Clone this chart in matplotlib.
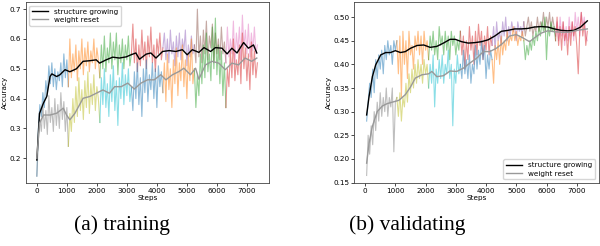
import matplotlib
matplotlib.use("Agg")
import matplotlib.pyplot as plt
import numpy as np

# ---- training panel (a) ----
train_steps = list(range(0, 7400, 50))
sg_train = [
    0.14, 0.30, 0.38, 0.34, 0.42, 0.37, 0.46, 0.41, 0.51, 0.45, 0.52, 0.44, 0.50, 0.43, 0.49, 0.46, 0.52, 0.44, 0.55, 0.47, 0.53,
    0.44, 0.60, 0.47, 0.55, 0.49, 0.58, 0.46, 0.56, 0.50, 0.60, 0.48, 0.57, 0.51, 0.59, 0.49, 0.56, 0.52, 0.60, 0.50, 0.57, 0.53,
    0.47, 0.58, 0.50, 0.61, 0.49, 0.57, 0.52, 0.62, 0.50, 0.59, 0.53, 0.62, 0.48, 0.58, 0.52, 0.60, 0.50, 0.58, 0.53, 0.61, 0.51,
    0.55, 0.65, 0.52, 0.60, 0.49, 0.58, 0.51, 0.63, 0.53, 0.59, 0.50, 0.61, 0.54, 0.64, 0.52, 0.58, 0.49, 0.60, 0.55, 0.62, 0.53,
    0.57, 0.62, 0.53, 0.60, 0.52, 0.63, 0.55, 0.59, 0.51, 0.61, 0.54, 0.62, 0.53, 0.60, 0.56, 0.63, 0.51, 0.58, 0.54, 0.61, 0.55,
    0.58, 0.52, 0.70, 0.54, 0.61, 0.52, 0.63, 0.55, 0.66, 0.53, 0.61, 0.57, 0.65, 0.52, 0.62, 0.55, 0.60, 0.53, 0.64, 0.55, 0.59,
    0.52, 0.64, 0.54, 0.60, 0.55, 0.66, 0.52, 0.62, 0.56, 0.64, 0.53, 0.68, 0.57, 0.63, 0.55, 0.65, 0.54, 0.62, 0.56, 0.64, 0.55, 0.58,
]
wr_train = [
    0.14, 0.26, 0.33, 0.29, 0.38, 0.30, 0.36, 0.28, 0.41, 0.32, 0.37, 0.29, 0.40, 0.31, 0.38, 0.30, 0.42, 0.33, 0.39, 0.29, 0.37,
    0.24, 0.35, 0.29, 0.40, 0.32, 0.44, 0.34, 0.47, 0.36, 0.43, 0.33, 0.46, 0.37, 0.49, 0.35, 0.45, 0.38, 0.48, 0.36, 0.44, 0.40,
    0.32, 0.47, 0.38, 0.50, 0.37, 0.45, 0.34, 0.48, 0.39, 0.51, 0.36, 0.46, 0.31, 0.47, 0.40, 0.52, 0.38, 0.48, 0.41, 0.50, 0.39,
    0.44, 0.36, 0.49, 0.40, 0.52, 0.38, 0.47, 0.34, 0.50, 0.42, 0.53, 0.39, 0.48, 0.43, 0.52, 0.40, 0.50, 0.37, 0.51, 0.44, 0.49,
    0.42, 0.52, 0.39, 0.55, 0.43, 0.50, 0.37, 0.53, 0.45, 0.57, 0.41, 0.52, 0.46, 0.58, 0.44, 0.53, 0.40, 0.55, 0.46, 0.60, 0.45,
    0.50, 0.37, 0.48, 0.41, 0.55, 0.45, 0.58, 0.47, 0.62, 0.49, 0.55, 0.46, 0.64, 0.50, 0.67, 0.48, 0.58, 0.45, 0.56, 0.41, 0.52,
    0.37, 0.50, 0.44, 0.56, 0.47, 0.60, 0.46, 0.53, 0.48, 0.58, 0.45, 0.62, 0.50, 0.57, 0.46, 0.55, 0.43, 0.59, 0.48, 0.56, 0.47, 0.52,
]
sg_train_smooth_x = [0, 88, 220, 330, 440, 500, 660, 770, 940, 1100, 1320, 1540, 1760, 1980, 2090, 2310, 2530, 2750, 2980,
                     3140, 3300, 3420, 3640, 3800, 3970, 4190, 4410, 4630, 4850, 5010, 5180, 5400, 5570, 5790, 5950,
                     6170, 6340, 6500, 6670, 6890, 7050, 7220, 7330]
sg_train_smooth = [0.194, 0.35, 0.385, 0.407, 0.474, 0.483, 0.474, 0.48, 0.497, 0.49, 0.50, 0.525, 0.527, 0.53, 0.519,
                   0.53, 0.539, 0.536, 0.54, 0.547, 0.553, 0.532, 0.549, 0.553, 0.536, 0.558, 0.561, 0.558, 0.564,
                   0.547, 0.564, 0.555, 0.571, 0.558, 0.571, 0.569, 0.55, 0.569, 0.553, 0.588, 0.569, 0.58, 0.553]
wr_train_smooth_x = [0, 88, 220, 440, 660, 880, 990, 1100, 1270, 1540, 1760, 1980, 2200, 2420, 2590, 2810, 3030, 3250,
                     3470, 3690, 3910, 4130, 4300, 4520, 4740, 4900, 5120, 5290, 5400, 5620, 5840, 6060, 6280, 6500,
                     6720, 6940, 7160, 7330]
wr_train_smooth = [0.20, 0.317, 0.345, 0.345, 0.351, 0.368, 0.345, 0.329, 0.351, 0.401, 0.407, 0.418, 0.429, 0.418,
                   0.44, 0.44, 0.452, 0.432, 0.452, 0.463, 0.463, 0.48, 0.463, 0.48, 0.491, 0.502, 0.48, 0.502, 0.465,
                   0.513, 0.525, 0.519, 0.497, 0.519, 0.513, 0.536, 0.525, 0.536]

# ---- validating panel (b) ----
val_steps = list(range(50, 7400, 50))
sg_val = [
    0.28, 0.32, 0.36, 0.33, 0.39, 0.34, 0.41, 0.37, 0.42, 0.39, 0.43, 0.38, 0.44, 0.41, 0.45, 0.42, 0.44, 0.40, 0.45, 0.43,
    0.45, 0.38, 0.46, 0.33, 0.47, 0.40, 0.45, 0.37, 0.47, 0.42, 0.44, 0.39, 0.46, 0.43, 0.47, 0.42, 0.46, 0.40, 0.47, 0.43, 0.45,
    0.41, 0.46, 0.43, 0.47, 0.42, 0.45, 0.41, 0.48, 0.44, 0.46, 0.42, 0.47, 0.43, 0.46, 0.41, 0.47, 0.44, 0.46, 0.42, 0.45, 0.43,
    0.47, 0.42, 0.46, 0.39, 0.45, 0.41, 0.48, 0.43, 0.46, 0.40, 0.47, 0.42, 0.485, 0.44, 0.47, 0.41, 0.46, 0.43, 0.48, 0.42, 0.46,
    0.44, 0.48, 0.43, 0.49, 0.45, 0.47, 0.44, 0.49, 0.46, 0.50, 0.45, 0.48, 0.46, 0.49, 0.47, 0.48, 0.45, 0.49, 0.47, 0.48, 0.46,
    0.49, 0.46, 0.48, 0.50, 0.47, 0.49, 0.46, 0.48, 0.47, 0.50, 0.47, 0.49, 0.48, 0.51, 0.47, 0.50, 0.48, 0.51, 0.47, 0.50, 0.48,
    0.46, 0.49, 0.45, 0.50, 0.46, 0.49, 0.44, 0.48, 0.45, 0.50, 0.46, 0.49, 0.45, 0.51, 0.47, 0.50, 0.46, 0.51, 0.48, 0.50, 0.46, 0.45,
]
wr_val = [
    0.165, 0.25, 0.21, 0.27, 0.23, 0.30, 0.26, 0.32, 0.28, 0.34, 0.29, 0.33, 0.30, 0.35, 0.29, 0.33, 0.31, 0.35, 0.215, 0.32,
    0.33, 0.29, 0.34, 0.28, 0.33, 0.31, 0.36, 0.32, 0.38, 0.34, 0.39, 0.35, 0.40, 0.36, 0.41, 0.37, 0.40, 0.36, 0.41, 0.38, 0.40,
    0.35, 0.40, 0.36, 0.42, 0.31, 0.39, 0.36, 0.41, 0.37, 0.42, 0.36, 0.40, 0.38, 0.43, 0.37, 0.40, 0.27, 0.39, 0.36, 0.42, 0.38,
    0.40, 0.37, 0.43, 0.38, 0.41, 0.37, 0.42, 0.36, 0.40, 0.38, 0.44, 0.39, 0.43, 0.40, 0.45, 0.41, 0.44, 0.37, 0.42, 0.39, 0.43,
    0.41, 0.36, 0.44, 0.41, 0.45, 0.40, 0.46, 0.42, 0.45, 0.43, 0.47, 0.44, 0.46, 0.45, 0.48, 0.45, 0.47, 0.44, 0.46, 0.45, 0.47,
    0.45, 0.41, 0.44, 0.42, 0.45, 0.43, 0.46, 0.44, 0.47, 0.45, 0.48, 0.46, 0.49, 0.47, 0.50, 0.41, 0.48, 0.46, 0.49, 0.47, 0.48,
    0.45, 0.50, 0.44, 0.48, 0.43, 0.49, 0.45, 0.47, 0.42, 0.48, 0.44, 0.49, 0.46, 0.48, 0.44, 0.38, 0.47, 0.51, 0.46, 0.49, 0.44, 0.47,
]
sg_val_smooth_x = [50, 130, 240, 350, 515, 680, 840, 1000, 1170, 1330, 1500, 1720, 1940, 2150, 2370, 2590, 2810, 2980,
                   3190, 3410, 3630, 3850, 4070, 4290, 4510, 4730, 4950, 5160, 5380, 5600, 5820, 6040, 6260, 6480,
                   6700, 6910, 7130, 7350]
sg_val_smooth = [0.293, 0.332, 0.374, 0.399, 0.42, 0.425, 0.425, 0.429, 0.425, 0.427, 0.434, 0.44, 0.441, 0.436, 0.438,
                 0.445, 0.453, 0.453, 0.448, 0.445, 0.446, 0.448, 0.452, 0.46, 0.47, 0.472, 0.475, 0.475, 0.476,
                 0.479, 0.48, 0.479, 0.475, 0.472, 0.471, 0.472, 0.479, 0.492]
wr_val_smooth_x = [50, 130, 240, 400, 570, 730, 950, 1120, 1330, 1500, 1660, 1880, 2100, 2210, 2370, 2590, 2810, 3030,
                   3250, 3470, 3690, 3910, 4120, 4340, 4560, 4780, 5000, 5220, 5440, 5600, 5820, 6040, 6260, 6530,
                   6750, 7020, 7350]
wr_val_smooth = [0.191, 0.233, 0.269, 0.30, 0.312, 0.317, 0.321, 0.324, 0.336, 0.352, 0.371, 0.378, 0.38, 0.385, 0.374,
                 0.376, 0.386, 0.385, 0.392, 0.403, 0.413, 0.427, 0.427, 0.434, 0.445, 0.46, 0.463, 0.456, 0.448,
                 0.456, 0.466, 0.471, 0.469, 0.468, 0.468, 0.472, 0.475]

segment_edges = [0, 1050, 2100, 3150, 4200, 5250, 6300, 7400]

plt.rcParams['font.family'] = 'DejaVu Sans'
small = 5.2

fig = plt.figure(figsize=(6.0, 2.46), dpi=100)
ax1 = fig.add_axes([0.043, 0.256, 0.405, 0.736])
ax2 = fig.add_axes([0.590, 0.256, 0.408, 0.736])


def draw_segments(ax, steps, values):
    steps = np.array(steps)
    values = np.array(values)
    for lo, hi in zip(segment_edges[:-1], segment_edges[1:]):
        # include the first point of the next block so pieces join up
        mask = (steps >= lo) & (steps <= hi)
        ax.plot(steps[mask], values[mask], lw=0.8, alpha=0.5)


for ax, steps, sg, wr, sgx, sgs, wrx, wrs in [
    (ax1, train_steps, sg_train, wr_train, sg_train_smooth_x, sg_train_smooth, wr_train_smooth_x, wr_train_smooth),
    (ax2, val_steps, sg_val, wr_val, sg_val_smooth_x, sg_val_smooth, wr_val_smooth_x, wr_val_smooth),
]:
    draw_segments(ax, steps, sg)
    draw_segments(ax, steps, wr)
    ax.plot(sgx, sgs, color='black', lw=1.0, label='structure growing')
    ax.plot(wrx, wrs, color='#999999', lw=1.0, label='weight reset')
    ax.set_xlim(-368, 7730)
    ax.set_xticks([0, 1000, 2000, 3000, 4000, 5000, 6000, 7000])
    ax.tick_params(labelsize=small, length=2, width=0.5, pad=1.5)
    ax.set_xlabel('Steps', fontsize=small, labelpad=1)
    ax.set_ylabel('Accuracy', fontsize=small, labelpad=1)
    for sp in ax.spines.values():
        sp.set_linewidth(0.6)
        sp.set_color('#444444')

ax1.set_ylim(0.117, 0.724)
ax1.set_yticks([0.2, 0.3, 0.4, 0.5, 0.6, 0.7])
ax2.set_ylim(0.149, 0.532)
ax2.set_yticks([0.15, 0.20, 0.25, 0.30, 0.35, 0.40, 0.45, 0.50])
ax2.yaxis.set_major_formatter(matplotlib.ticker.FormatStrFormatter('%.2f'))

ax1.legend(loc='upper left', fontsize=small, handlelength=2.2, borderpad=0.4, labelspacing=0.3, framealpha=0.8)
ax2.legend(loc='lower right', fontsize=small, handlelength=2.2, borderpad=0.4, labelspacing=0.3, framealpha=0.8)

fig.text(0.203, 0.085, '(a) training', fontsize=15.5, family='Liberation Serif', ha='center', va='center')
fig.text(0.678, 0.085, '(b) validating', fontsize=15.5, family='Liberation Serif', ha='center', va='center')

fig.savefig('out.png', dpi=100)
